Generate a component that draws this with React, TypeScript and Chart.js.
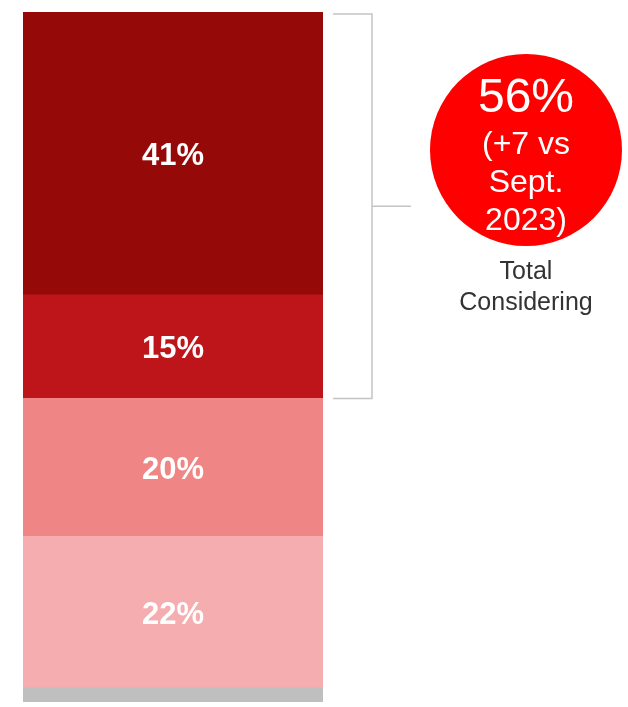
import React, { useEffect, useRef } from "react";
import { Chart, registerables } from "chart.js";

Chart.register(...registerables);

// Stacked from bottom to top
const segmentLabels = ["Other", "22%", "20%", "15%", "41%"];
const segmentValues = [2, 22, 20, 15, 41];
const segmentColors = ["#BFBFBF", "#F5ADAF", "#F08585", "#BE151B", "#950909"];
const showLabel = [false, true, true, true, true];
const categories = [""];

const bubbleMain = "56%";
const bubbleSub = ["(+7 vs", "Sept.", "2023)"];
const captionLines = ["Total", "Considering"];
// Bracket covers the top two segments (41% + 15%)
const bracketFromIndex = 3;

const FONT = "'Liberation Sans', Arial, Helvetica, sans-serif";

export default function App() {
  const canvasRef = useRef<HTMLCanvasElement | null>(null);

  useEffect(() => {
    document.body.style.margin = "0";
    const canvas = canvasRef.current;
    if (!canvas) return;

    const overlayPlugin = {
      id: "overlay",
      afterDatasetsDraw(chart: any) {
        const ctx = chart.ctx as CanvasRenderingContext2D;
        const yScale = chart.scales.y;
        // segment labels
        ctx.save();
        ctx.fillStyle = "#FFFFFF";
        ctx.font = `bold 31px ${FONT}`;
        ctx.textAlign = "center";
        ctx.textBaseline = "alphabetic";
        chart.data.datasets.forEach((ds: any, i: number) => {
          if (!showLabel[i]) return;
          const el = chart.getDatasetMeta(i).data[0] as any;
          const cy = (el.y + el.base) / 2;
          ctx.fillText(segmentLabels[i], el.x, cy + 11.5);
        });
        ctx.restore();

        // bracket
        const barEl = chart.getDatasetMeta(segmentValues.length - 1).data[0] as any;
        const barRight = barEl.x + barEl.width / 2;
        let below = 0;
        for (let i = 0; i < bracketFromIndex; i++) below += segmentValues[i];
        const total = segmentValues.reduce((a, b) => a + b, 0);
        const topY = yScale.getPixelForValue(total) + 2;
        const botY = yScale.getPixelForValue(below);
        const x0 = barRight + 10;
        const x1 = barRight + 49;
        const x2 = barRight + 88;
        const midY = (topY + botY) / 2;
        ctx.save();
        ctx.strokeStyle = "#C4C4C4";
        ctx.lineWidth = 1.5;
        ctx.beginPath();
        ctx.moveTo(x0, topY);
        ctx.lineTo(x1, topY);
        ctx.lineTo(x1, botY);
        ctx.lineTo(x0, botY);
        ctx.moveTo(x1, midY);
        ctx.lineTo(x2, midY);
        ctx.stroke();
        ctx.restore();

        // bubble
        const cx = 526;
        const cyc = 150;
        const r = 96;
        ctx.save();
        ctx.fillStyle = "#FF0000";
        ctx.beginPath();
        ctx.arc(cx, cyc, r, 0, Math.PI * 2);
        ctx.fill();
        ctx.fillStyle = "#FFFFFF";
        ctx.textAlign = "center";
        ctx.textBaseline = "alphabetic";
        ctx.font = `48px ${FONT}`;
        ctx.fillText(bubbleMain, cx, 112);
        ctx.font = `32px ${FONT}`;
        bubbleSub.forEach((t, i) => ctx.fillText(t, cx, 154 + i * 38));
        ctx.fillStyle = "#333333";
        ctx.font = `25px ${FONT}`;
        captionLines.forEach((t, i) => ctx.fillText(t, cx, 279 + i * 31));
        ctx.restore();
      },
    };

    const chart = new Chart(canvas, {
      type: "bar",
      data: {
        labels: categories,
        datasets: segmentValues.map((v, i) => ({
          label: segmentLabels[i],
          data: [v],
          backgroundColor: segmentColors[i],
          borderWidth: 0,
          barPercentage: 1,
          categoryPercentage: 1,
        })),
      },
      options: {
        responsive: false,
        animation: false,
        layout: { padding: { left: 23, right: 305, top: 12, bottom: 5 } },
        plugins: { legend: { display: false }, tooltip: { enabled: false } },
        scales: {
          x: { stacked: true, display: false },
          y: { stacked: true, display: false, min: 0, max: 100 },
        },
      },
      plugins: [overlayPlugin],
    });
    return () => chart.destroy();
  }, []);

  return (
    <div style={{ width: 628, height: 707, background: "#FFFFFF" }}>
      <canvas ref={canvasRef} width={628} height={707} style={{ display: "block" }} />
    </div>
  );
}
